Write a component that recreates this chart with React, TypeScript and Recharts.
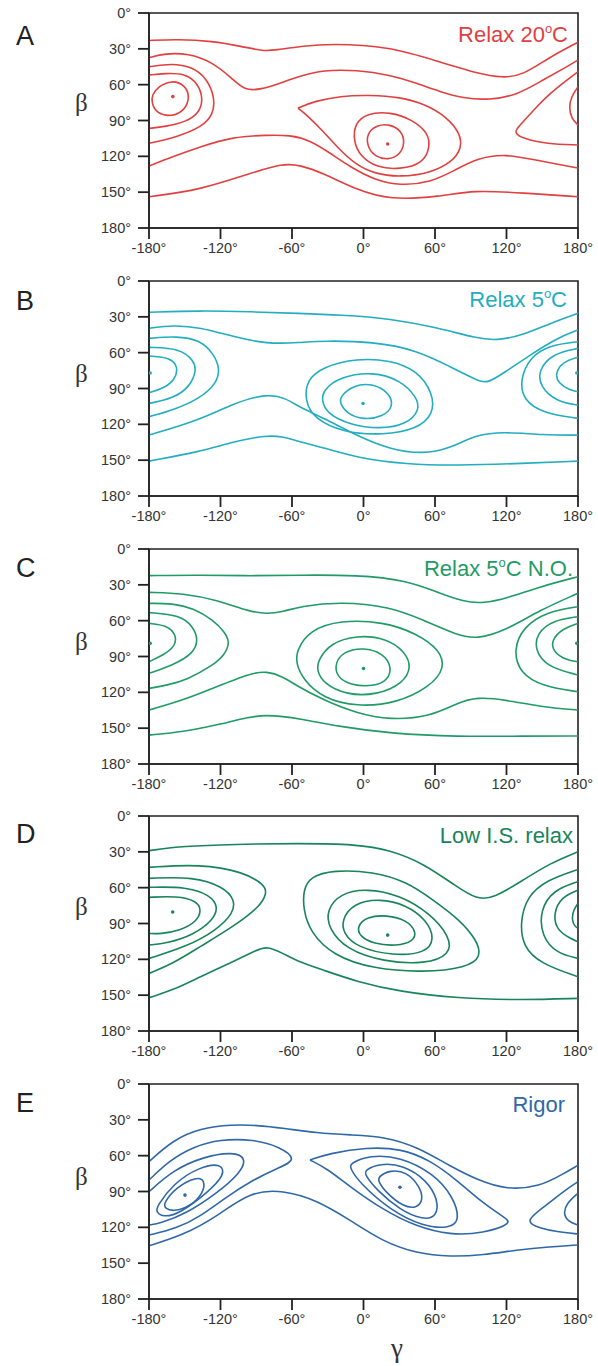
import React from 'react';
import { ComposedChart, Line, Scatter, XAxis, YAxis, ReferenceArea } from 'recharts';

type P = [number, number];

const GAMMA_TICKS = [-180, -120, -60, 0, 60, 120, 180];
const BETA_TICKS = [0, 30, 60, 90, 120, 150, 180];

// ---------- Panel A : Relax 20°C ----------
const A_line1: P[] = [[-180,23],[-156,22],[-127,23.5],[-102,28],[-84,32],[-74,31],[-53,28],[-28,25.5],[22,28],[64,41],[95,50.5],[117,54.5],[134,52],[156,37],[180,24.5]];
const A_line2: P[] = [[-180,37.4],[-166.6,33.8],[-147.3,33.8],[-127.1,40.8],[-110.4,54.7],[-99.4,65.3],[-85.2,63.6],[-74.3,60.3],[-53.3,52.8],[-34,47.7],[-5.5,47.7],[22.2,51.9],[44.9,58.9],[64.2,65.9],[83.5,71.4],[106.1,72.9],[128.8,68.7],[150.6,56.1],[170.7,45],[180,39.4]];
const A_arcL3: P[] = [[-180,45],[-160.7,42.1],[-143.9,45],[-131.3,54.7],[-124.6,71.4],[-126.3,85.4],[-135.5,95.2],[-155.7,103.6],[-180,109.1]];
const A_arcL4: P[] = [[-180,51.9],[-166.6,50.5],[-149.8,50.5],[-138.9,58.9],[-134.7,71.4],[-137.2,82.7],[-148.1,91],[-166.6,95.2],[-180,96.6]];
const A_loopL: P[] = [[-177.7,68.7],[-172.2,61.7],[-161,56.1],[-149.8,60.3],[-145.6,70.1],[-149.8,81.4],[-161,87],[-173.5,84.1],[-177.7,75.7]];
const A_line5: P[] = [[-180,128.1],[-160,120.3],[-137,112],[-109.5,103.6],[-81,102.2],[-61.7,102.2],[-45,106.4],[-28,117.3],[-11,129],[10,140],[31,144.5],[56,142],[77,131.5],[96,121.4],[119,118],[144,123],[180,129.8]];
const A_line6: P[] = [[-180,153.8],[-137.2,148.2],[-95.3,134.3],[-67.6,125.9],[-53.3,127.3],[-34,134],[-5.5,148.2],[22.2,156.6],[64.2,153.8],[91.9,148.2],[133.8,150.7],[180,153.8]];
const A_loopC1: P[] = [[2.7,100.8],[11.1,93.8],[22.2,93],[32,98.7],[34.8,108.6],[30.6,118.9],[20.8,123.1],[9.6,120.3],[3.2,112]];
const A_loopC2: P[] = [[-7.1,92.4],[2.7,84],[22.2,82.7],[41.8,89.6],[54.4,100.8],[55.8,112],[50.2,125.9],[30.6,131],[11.1,129.5],[-2.9,120],[-8.6,106.4]];
const A_cuspC: P[] = [[-55,79.6],[-40.7,73.7],[-19.7,69.5],[5.4,68.7],[30.6,70.4],[51.6,76.2],[70,87.1],[81,100.5],[82.6,113.1],[74.2,124.8],[55.8,134],[30.6,137.4],[9.6,134.8],[-7.1,126.5],[-21.4,113.1],[-34.8,98],[-46.6,86.3],[-55,79.6]];
const A_cuspR: P[] = [[180,49.1],[170.7,56.1],[156.5,67.3],[142.5,81.4],[131.3,94.2],[125.7,99.8],[134.1,105.4],[153.8,109.6],[180,110.5]];
const A_arcR: P[] = [[180,61.7],[174.4,70.1],[172.4,78.5],[174.4,88.2],[180,93.8]];
const A_dots: P[] = [[-160,70],[20.3,109.7]];

// ---------- Panel B : Relax 5°C ----------
const B_line1: P[] = [[-180,26.2],[-137.2,24.8],[-95.3,25.7],[-53.3,27.1],[-19.7,28.5],[22.2,31.3],[64.2,39.6],[95,48],[111.8,50],[134.1,45.2],[156.5,35.5],[180,27.1]];
const B_line2: P[] = [[-180,39.6],[-159.6,36.9],[-137.2,38.8],[-109.3,46.6],[-81.2,52.8],[-53.3,51.6],[-33.7,50],[8.2,50.8],[44.6,57.8],[72.6,71.7],[95,82.9],[103.4,86],[117.3,77.3],[139.7,62],[162.1,48],[180,41]];
const B_arcL3: P[] = [[-180,48],[-156.8,46.1],[-137.2,49.4],[-126,60.6],[-120.4,73.1],[-123.2,85.7],[-137.2,98.3],[-159.6,108],[-180,113.6]];
const B_arcL4: P[] = [[-180,55.6],[-154,56.4],[-142.8,66.2],[-140,74.5],[-145.6,88.5],[-159.6,98.3],[-180,102.5]];
const B_arcL5: P[] = [[-180,62.8],[-162.4,63.9],[-155.4,71.7],[-158.2,82.9],[-168,89.9],[-180,93.5]];
const B_line5: P[] = [[-180,129],[-137.2,116.4],[-109.3,102.5],[-81.2,94.1],[-64.5,98.3],[-53.3,106],[-33.7,114.5],[-5.7,129.5],[22.2,141],[50.2,145],[72.6,140],[95,128.5],[117.3,126.2],[150.9,129],[180,129]];
const B_line6: P[] = [[-180,150.8],[-137.2,142.9],[-109.3,134.6],[-81.2,129],[-67.3,130.4],[-53.3,134.6],[-33.7,139.5],[-5.7,148],[36.2,153.5],[78.2,154.5],[134.1,152.7],[180,150.8]];
const B_loopC1: P[] = [[-19.7,96.9],[-8.6,87.1],[8.2,85.7],[22.2,94.1],[25,105.2],[16.6,113.6],[-0.2,116.4],[-14.1,110.8],[-19.7,102.5]];
const B_loopC2: P[] = [[-33.7,91.3],[-19.7,80.1],[8.2,75.9],[30.6,82.9],[44.6,96.9],[47.4,108],[36.2,120],[13.8,124],[-11.3,120.5],[-30.9,110.8],[-35.1,99.7]];
const B_loopC3: P[] = [[-47.7,82.9],[-33.7,71.7],[-5.7,64.8],[22.2,66.2],[44.6,74.5],[58.6,94.1],[58.6,112],[44.6,124],[16.6,129],[-16.9,127],[-42.1,115],[-49.1,99.7]];
const B_arcR1: P[] = [[180,63.9],[167.4,67.6],[160.7,77.3],[163.5,85.7],[173,91.3],[180,92.7]];
const B_arcR2: P[] = [[180,56.4],[159.2,60.6],[146.7,74.5],[148.1,88.5],[162.1,101.1],[180,103.9]];
const B_arcR3: P[] = [[180,50.8],[156.5,53.6],[139.7,63.4],[131.3,82.9],[134.1,99.7],[150.9,110.8],[180,115]];
const B_dots: P[] = [[-179,77],[-0.4,102.5],[179,77]];

// ---------- Panel C : Relax 5°C N.O. ----------
const C_line1: P[] = [[-180,22.3],[-137.2,21.8],[-95.3,22.6],[-53.3,21.8],[-5.7,21.8],[36.2,26],[64.2,37.1],[83.7,44.1],[100.5,45.5],[120.2,41.3],[148.1,31.5],[180,23.2]];
const C_line2: P[] = [[-180,36.3],[-151.2,37.1],[-123.2,42.7],[-95.3,52.5],[-81.2,54.4],[-67.3,52.5],[-53.3,48],[-19.7,44.1],[22.2,48.3],[50.2,59.5],[78.2,72],[95,75.7],[120.2,67.8],[148.1,51.1],[180,37.1]];
const C_arcL3: P[] = [[-180,45.5],[-160,45.5],[-143,49.5],[-126,59.5],[-116,70],[-112,79],[-117,89],[-126,97.2],[-148.4,109.7],[-165,114],[-180,116.7]];
const C_arcL4: P[] = [[-180,53.3],[-154,55.3],[-142.8,65],[-138.6,76.2],[-142.8,87.4],[-159.6,97.2],[-180,104.1]];
const C_arcL5: P[] = [[-180,62.3],[-165.2,63.7],[-156.8,72],[-158.2,81.8],[-168,88.8],[-180,94.4]];
const C_line5: P[] = [[-180,134.8],[-151.2,126.5],[-123.2,115.3],[-95.3,104.1],[-81.2,102.2],[-67.3,106.9],[-57,114],[-33.7,126.5],[-5.7,137.6],[22.2,143.2],[55.8,140.4],[78.2,129.2],[95,123.7],[120.2,126.5],[148.1,132.1],[180,134.8]];
const C_line6: P[] = [[-180,155.8],[-151.2,153],[-123.2,147.4],[-95.3,140.4],[-81.2,139],[-67.3,140.4],[-57,141.5],[-19.7,148.8],[22.2,154.4],[78.2,157.2],[134.1,156.6],[180,156.6]];
const C_loopC1: P[] = [[-24,95.7],[-17,86],[-0.2,82.3],[16.6,87.4],[23.7,98.6],[20.8,109.7],[8.2,115.3],[-11.3,113.9],[-22.5,106.9]];
const C_loopC2: P[] = [[-37.9,93],[-28.1,79],[-5.7,72],[19.4,74.8],[34.8,86],[40.4,98.6],[33.4,112.5],[11.1,122.3],[-14.1,122.3],[-33.7,112.5],[-39.3,101.3]];
const C_loopC3: P[] = [[-56.1,84.6],[-44.9,67.8],[-19.7,59.5],[16.6,60.9],[44.6,70.6],[64.2,84.6],[68.4,99.9],[55.8,115.3],[27.8,129.2],[-5.7,132.1],[-33.7,125.1],[-50.5,109.7],[-56.7,95.7]];
const C_arcR1: P[] = [[180,62.3],[167.4,66.4],[157.6,76.2],[159,86],[170.2,93],[180,94.4]];
const C_arcR2: P[] = [[180,56.7],[159.2,59.5],[145.3,70.6],[143.9,84.6],[153.7,98.6],[180,105.5]];
const C_arcR3: P[] = [[180,48.3],[153.7,52.5],[134.1,65.1],[125.7,84.6],[131.3,104.1],[150.9,115.3],[180,119.5]];
const C_dots: P[] = [[-179,79],[0,100],[179,79]];

// ---------- Panel D : Low I.S. relax ----------
const D_line1: P[] = [[-180,29],[-151.2,25.1],[-109.3,23.7],[-53.3,22.9],[-5.7,23.7],[22.2,28.5],[50.2,39.6],[78.2,59.2],[95,69.8],[109,69],[134.1,53.6],[156.5,39.6],[180,29.9]];
const D_arcL1: P[] = [[-180,43],[-137.2,40.2],[-100.9,46.6],[-82.7,57.8],[-81.2,64.8],[-86.9,75.9],[-109.3,92.7],[-137.2,109.4],[-159.6,123.4],[-180,131.8]];
const D_arcL2: P[] = [[-180,52.2],[-142.8,50.8],[-117.6,59.2],[-107.8,70.4],[-109.3,81.5],[-123.2,95.5],[-148.4,109.4],[-180,119.2]];
const D_arcL3: P[] = [[-180,59.7],[-148.4,59.2],[-128.8,66.2],[-121.8,75.9],[-126,87.1],[-142.8,99.7],[-165.2,106.6],[-180,108]];
const D_arcL4: P[] = [[-180,68.1],[-156.8,67],[-140,70.9],[-135.8,78.7],[-140,88.5],[-154,96],[-170.8,98.8],[-180,98.3]];
const D_line6: P[] = [[-180,152.1],[-159.6,145.7],[-137.2,134.6],[-109.3,122],[-89.6,112.2],[-81.2,108.9],[-67.3,115],[-57,121],[-33.7,129],[-5.7,138.7],[30.6,147.1],[78.2,152.7],[134.1,154.1],[180,152.7]];
const D_loopC1: P[] = [[-5.7,92.7],[2.7,84.3],[19.5,82.9],[36.2,87.1],[44.6,97],[41.8,105],[27.8,109],[8.2,107],[-2.9,101]];
const D_loopC2: P[] = [[-18.3,87.1],[-8.6,73.1],[13.8,69],[36.2,74.5],[53,87.1],[60,103],[52,115],[25,117],[-5.7,110],[-16.9,98]];
const D_loopC3: P[] = [[-30.9,78.7],[-19.7,64.8],[2.7,60.6],[30.6,66.2],[55.8,81.5],[72.6,101.1],[73,116],[52,124],[16.6,122],[-14.1,112],[-29.5,94]];
const D_loopC4: P[] = [[-50.5,62],[-44.9,50.8],[-25.4,45.2],[8.2,46.6],[36.2,55],[58.6,70.4],[81,87.1],[95,103.9],[99.2,117.8],[86.6,127],[50.2,131],[8.2,128],[-25.4,117],[-44.9,97],[-50.5,78]];
const D_arcR1: P[] = [[180,44.7],[153.7,53.6],[136.9,67.6],[131.3,89.9],[134.1,109.4],[148.1,123.4],[180,134.6]];
const D_arcR2: P[] = [[180,55],[159.2,62],[148.1,78.7],[149.5,101.1],[162.1,115],[180,119.2]];
const D_arcR3: P[] = [[180,62],[166.3,67.6],[159.2,81.5],[162.1,95.5],[173.3,102.4],[180,105.3]];
const D_arcR4: P[] = [[180,73.1],[176.1,78.7],[174.7,87.1],[177.5,92.7],[180,94]];
const D_dots: P[] = [[-160.1,80.4],[20.3,99.7]];

// ---------- Panel E : Rigor ----------
const E_line1: P[] = [[-180,65],[-160,47],[-137,37],[-110,34],[-90,34.5],[-67,37],[-39,41],[-11,42.7],[17,44],[45,52.5],[73,69],[97,81],[120,88.5],[148,86],[168,75],[180,68]];
const E_cuspL: P[] = [[-180,80.4],[-162.4,63.7],[-142.8,52.5],[-120.4,46.3],[-92.5,46.3],[-70.1,52.5],[-55,63.7],[-72.9,70.6],[-95.3,81.8],[-114.8,94.4],[-137.2,111.1],[-156.8,120.9],[-180,126.5]];
const E_arcL: P[] = [[-180,90.2],[-159.6,72],[-134.4,60.9],[-109.3,56.7],[-98,62.2],[-103.6,74.8],[-123.2,91.5],[-148.4,108.3],[-170.8,116.7],[-180,118.1]];
const E_loopL2: P[] = [[-173.5,102.7],[-159.6,83.2],[-137.2,69.2],[-119,66.4],[-116.2,76.2],[-131.6,91.5],[-154,108.3],[-168,111.7],[-174.1,106.9]];
const E_loopL1: P[] = [[-168,99.9],[-156.8,86],[-140,77.6],[-133,80.4],[-134.4,91.5],[-145.6,102.7],[-159.6,106.9],[-166.6,104.1]];
const E_line5: P[] = [[-180,135.4],[-151.2,126.5],[-123.2,111.1],[-95.3,90],[-67.3,88.8],[-39.3,97.2],[-11.3,113.9],[16.6,132.1],[44.6,141.8],[72.6,144.7],[100.5,143.2],[128.5,139],[156.5,136.3],[180,134.8]];
const E_cuspC: P[] = [[-44.9,63.6],[-28.1,58],[2.7,53],[30.6,53.9],[55.8,63.6],[78.2,80.4],[100.5,99.9],[117.3,111.1],[125.7,116.7],[100.5,125],[72.6,126.5],[44.6,119.5],[16.6,105.5],[-11.3,86],[-30.9,70.6],[-44.9,63.6]];
const E_loopC3: P[] = [[-11.3,66.4],[5.4,59.5],[30.6,60.9],[58.6,74.8],[75.4,94.4],[81,113.9],[72.6,120.9],[50.2,119.5],[22.2,105.5],[-2.9,83.2],[-11.3,70.6]];
const E_loopC2: P[] = [[1.2,72],[13.8,66.4],[33.4,67.8],[53,80.4],[62.8,97.2],[61.4,111.1],[50.2,113.9],[30.6,105.5],[11.1,88.8],[1.2,76.2]];
const E_loopC1: P[] = [[12.4,77.6],[22.2,72],[36.2,73.4],[47.4,86],[50.2,97.2],[44.6,104.1],[33.4,102.7],[19.5,91.5],[12.4,81.8]];
const E_cuspR: P[] = [[180,81.8],[173.3,86],[162.1,94.4],[148.1,105.5],[135.5,115],[148.1,120.9],[162.1,123.7],[180,125.6]];
const E_arcR: P[] = [[180,91.5],[170.5,99.9],[167.6,108.3],[171.8,115.3],[180,118.1]];
const E_dots: P[] = [[-149.8,93],[30.6,86.5]];

type Kind = 'open' | 'closed';
interface Contour { pts: P[]; kind: Kind }
interface PanelDef {
  letter: string; pre: string; sup?: string; post?: string; color: string; top: number;
  contours: Contour[]; dots: P[]; titleDy: number; letterDy: number; betaDy: number; titleX: number;
}

const o = (pts: P[]): Contour => ({ pts, kind: 'open' });
const c = (pts: P[]): Contour => ({ pts, kind: 'closed' });

const PANELS: PanelDef[] = [
  { letter: 'A', pre: 'Relax 20', sup: 'o', post: 'C', color: '#e2403f', top: 13, titleDy: 29, letterDy: 32, betaDy: 98, titleX: 568,
    contours: [o(A_line1), o(A_line2), o(A_arcL3), o(A_arcL4), c(A_loopL), o(A_line5), o(A_line6), c(A_loopC1), c(A_loopC2), o(A_cuspC), o(A_cuspR), o(A_arcR)],
    dots: A_dots },
  { letter: 'B', pre: 'Relax 5', sup: 'o', post: 'C', color: '#22adc0', top: 281, titleDy: 26, letterDy: 29, betaDy: 101, titleX: 567,
    contours: [o(B_line1), o(B_line2), o(B_arcL3), o(B_arcL4), o(B_arcL5), o(B_line5), o(B_line6), c(B_loopC1), c(B_loopC2), c(B_loopC3), o(B_arcR1), o(B_arcR2), o(B_arcR3)],
    dots: B_dots },
  { letter: 'C', pre: 'Relax 5', sup: 'o', post: 'C N.O.', color: '#1f9b66', top: 549, titleDy: 27, letterDy: 28, betaDy: 101, titleX: 573,
    contours: [o(C_line1), o(C_line2), o(C_arcL3), o(C_arcL4), o(C_arcL5), o(C_line5), o(C_line6), c(C_loopC1), c(C_loopC2), c(C_loopC3), o(C_arcR1), o(C_arcR2), o(C_arcR3)],
    dots: C_dots },
  { letter: 'D', pre: 'Low I.S. relax', color: '#18845b', top: 816, titleDy: 27, letterDy: 27, betaDy: 99, titleX: 573,
    contours: [o(D_line1), o(D_arcL1), o(D_arcL2), o(D_arcL3), o(D_arcL4), o(D_line6), c(D_loopC1), c(D_loopC2), c(D_loopC3), c(D_loopC4), o(D_arcR1), o(D_arcR2), o(D_arcR3), o(D_arcR4)],
    dots: D_dots },
  { letter: 'E', pre: 'Rigor', color: '#2f68a8', top: 1084, titleDy: 28, letterDy: 28, betaDy: 101, titleX: 565,
    contours: [o(E_line1), o(E_cuspL), o(E_arcL), c(E_loopL2), c(E_loopL1), o(E_line5), o(E_cuspC), c(E_loopC3), c(E_loopC2), c(E_loopC1), o(E_cuspR), o(E_arcR)],
    dots: E_dots },
];

const toData = (pts: P[]) => pts.map(([g, b]) => ({ g, b }));
const FONT = '"Liberation Sans", Arial, Helvetica, sans-serif';
const SERIF = '"Liberation Serif", "DejaVu Serif", serif';
const AXIS = '#222';

const makeDot = (color: string) => (props: any) => (
  <circle cx={props.cx} cy={props.cy} r={1.8} fill={color} />
);

function Panel({ p }: { p: PanelDef }) {
  return (
    <div style={{ position: 'absolute', left: 0, top: p.top - 10 }}>
      <ComposedChart width={598} height={265} margin={{ top: 10, right: 20, bottom: 10, left: 0 }}>
        <XAxis
          type="number" dataKey="g" domain={[-180, 180]} ticks={GAMMA_TICKS} interval={0}
          allowDataOverflow height={30} tickSize={11} tickMargin={4}
          axisLine={{ stroke: AXIS, strokeWidth: 1.6 }} tickLine={{ stroke: AXIS, strokeWidth: 1.8 }}
          tick={{ fontSize: 14.5, fill: '#333', fontFamily: FONT }}
          tickFormatter={(v: number) => `${v}°`}
        />
        <YAxis
          type="number" dataKey="b" domain={[0, 180]} reversed ticks={BETA_TICKS} interval={0}
          allowDataOverflow width={149} tickSize={11} tickMargin={7}
          axisLine={{ stroke: AXIS, strokeWidth: 1.6 }} tickLine={{ stroke: AXIS, strokeWidth: 1.8 }}
          tick={{ fontSize: 14.5, fill: '#333', fontFamily: FONT }}
          tickFormatter={(v: number) => `${v}°`}
        />
        <ReferenceArea x1={-180} x2={180} y1={0} y2={180} fill="none" fillOpacity={0} stroke={AXIS} strokeWidth={1.6} strokeOpacity={1} />
        {p.contours.map((ct, i) => (
          <Line
            key={i}
            data={toData(ct.pts)}
            dataKey="b"
            type={ct.kind === 'closed' ? 'basisClosed' : 'basis'}
            stroke={p.color}
            strokeWidth={1.6}
            dot={false}
            activeDot={false}
            isAnimationActive={false}
            legendType="none"
          />
        ))}
        <Scatter data={toData(p.dots)} dataKey="b" fill={p.color} shape={makeDot(p.color)} isAnimationActive={false} />
      </ComposedChart>
    </div>
  );
}

export default function App() {
  return (
    <div style={{ position: 'absolute', left: 0, top: 0, width: 598, height: 1366, background: '#fff' }}>
      {PANELS.map((p) => <Panel key={p.letter} p={p} />)}
      <svg width={598} height={1366} style={{ position: 'absolute', left: 0, top: 0, pointerEvents: 'none' }}>
        {PANELS.map((p) => (
          <g key={p.letter}>
            <text x={16} y={p.top + p.letterDy} fontSize={27} fontFamily={FONT} fill="#222">{p.letter}</text>
            <text x={75} y={p.top + p.betaDy} fontSize={25} fontFamily={SERIF} fill="#333">β</text>
            <text x={p.titleX} y={p.top + p.titleDy} fontSize={22} fontFamily={FONT} fill={p.color} textAnchor="end">
              <tspan>{p.pre}</tspan>
              {p.sup ? <tspan fontSize={13} dy={-9}>{p.sup}</tspan> : null}
              {p.post ? <tspan dy={9}>{p.post}</tspan> : null}
            </text>
          </g>
        ))}
        <text x={397} y={1357} fontSize={27} fontFamily={SERIF} fill="#333" textAnchor="middle">γ</text>
      </svg>
    </div>
  );
}
